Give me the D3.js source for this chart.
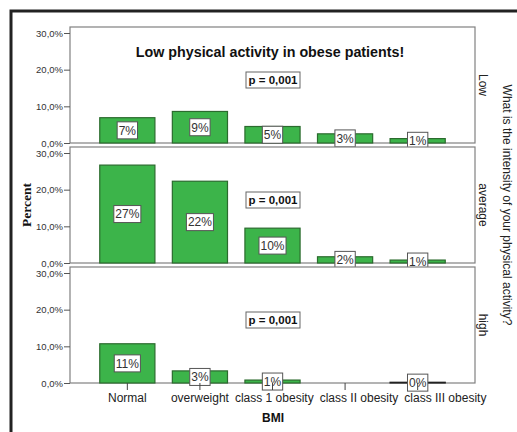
<!DOCTYPE html>
<html>
<head>
<meta charset="utf-8">
<script src="https://cdn.jsdelivr.net/npm/d3@7"></script>
<style>
  body { margin: 0; background: #fff; }
  svg text { font-family: "Liberation Sans", Arial, sans-serif; }
</style>
</head>
<body>
<div id="chart"></div>
<script>
// categories and values (percent) per activity level
const categories = ["Normal", "overweight", "class 1 obesity", "class II obesity", "class III obesity"];
const levels = ["Low", "average", "high"];
const lowValues = [6.9, 8.6, 4.5, 2.5, 1.2];
const averageValues = [26.7, 22.3, 9.5, 1.7, 0.8];
const highValues = [10.7, 3.3, 0.8, 0, 0.2];
const lowLabels = ["7%", "9%", "5%", "3%", "1%"];
const averageLabels = ["27%", "22%", "10%", "2%", "1%"];
const highLabels = ["11%", "3%", "1%", "", "0%"];
const yTicks = [0, 10, 20, 30];
const pText = "p = 0,001";

const panels = [
  { level: levels[0], values: lowValues, labels: lowLabels },
  { level: levels[1], values: averageValues, labels: averageLabels },
  { level: levels[2], values: highValues, labels: highLabels }
];

const width = 517, height = 432;
const panelLeft = 70, panelRight = 475;
const panelTops = [27, 147, 267];
const panelH = 116;

const svg = d3.select("#chart")
  .append("svg")
  .attr("width", width)
  .attr("height", height);

// outer frame
svg.append("path")
  .attr("d", `M11,${height} L11,11 L${width},11`)
  .attr("fill", "none")
  .attr("stroke", "#222")
  .attr("stroke-width", 3);

const x = d3.scaleBand()
  .domain(categories)
  .range([panelLeft, panelRight])
  .paddingInner(0.24)
  .paddingOuter(0.41);

panels.forEach((p, i) => {
  const top = panelTops[i];
  const bottom = top + panelH;
  const y = d3.scaleLinear()
    .domain([0, 30])
    .range([bottom, top + 6]);

  const g = svg.append("g");

  // panel box
  g.append("rect")
    .attr("x", panelLeft)
    .attr("y", top)
    .attr("width", panelRight - panelLeft)
    .attr("height", panelH)
    .attr("fill", "#fff")
    .attr("stroke", "#808080")
    .attr("stroke-width", 1.2);

  // y axis
  const yAxis = d3.axisLeft(y)
    .tickValues(yTicks)
    .tickSize(6)
    .tickFormat(d => d3.format(".1f")(d).replace(".", ",") + "%");
  const ya = g.append("g")
    .attr("transform", `translate(${panelLeft},0)`)
    .call(yAxis);
  ya.select(".domain").remove();
  ya.selectAll(".tick line").attr("stroke", "#555");
  ya.selectAll(".tick text")
    .attr("font-size", 9.5)
    .attr("fill", "#333")
    .attr("x", -7);

  // bars
  g.selectAll(".bar")
    .data(p.values)
    .enter()
    .append("rect")
    .attr("class", "bar")
    .attr("x", (d, j) => x(categories[j]))
    .attr("y", d => y(d))
    .attr("width", x.bandwidth())
    .attr("height", d => y(0) - y(d))
    .attr("fill", d => d > 0.5 ? "#3cb44a" : "#222")
    .attr("stroke", d => d > 0 ? (d > 0.5 ? "#2b6b2e" : "#222") : "none")
    .attr("stroke-width", 1.2);

  // value labels
  const lab = g.selectAll(".lab")
    .data(p.values.map((v, j) => ({ v, t: p.labels[j], c: categories[j] })).filter(d => d.t))
    .enter()
    .append("g")
    .attr("transform", d => `translate(${x(d.c) + x.bandwidth() / 2},${(y(d.v) + y(0)) / 2})`);
  lab.append("rect")
    .attr("y", -8.5)
    .attr("height", 17)
    .attr("fill", "#fff")
    .attr("stroke", "#555")
    .attr("stroke-width", 1);
  const txt = lab.append("text")
    .attr("text-anchor", "middle")
    .attr("dy", "0.36em")
    .attr("font-size", 12)
    .attr("fill", "#333")
    .text(d => d.t);
  txt.each(function () {
    const w = this.getComputedTextLength() + 3;
    d3.select(this.parentNode).select("rect")
      .attr("x", -w / 2)
      .attr("width", w);
  });

  // p value box
  g.append("rect")
    .attr("x", 246)
    .attr("y", top + 45)
    .attr("width", 54)
    .attr("height", 16)
    .attr("fill", "#fff")
    .attr("stroke", "#666");
  g.append("text")
    .attr("x", 273)
    .attr("y", top + 57)
    .attr("text-anchor", "middle")
    .attr("font-size", 11.5)
    .attr("font-weight", "bold")
    .attr("fill", "#111")
    .text(pText);

  // facet label on the right
  g.append("text")
    .attr("transform", `translate(${panelRight + 4},${top + panelH / 2}) rotate(90)`)
    .attr("text-anchor", "middle")
    .attr("font-size", 12)
    .attr("fill", "#222")
    .text(p.level);
});

// x axis below the last panel
const xAxis = d3.axisBottom(x).tickSize(7).tickPadding(3);
const xa = svg.append("g")
  .attr("transform", `translate(0,${panelTops[2] + panelH})`)
  .call(xAxis);
xa.select(".domain").remove();
xa.selectAll(".tick line").attr("stroke", "#444");
xa.selectAll(".tick text").attr("font-size", 12).attr("fill", "#222");

// push overlapping tick labels to the right, like the original
const items = xa.selectAll(".tick text").nodes().map((n, j) => {
  const home = x(categories[j]) + x.bandwidth() / 2;
  return { n, home, c: home, w: n.getComputedTextLength() };
});
const minGap = 6;
for (let j = 1; j < items.length; j++) {
  const a = items[j - 1], b = items[j];
  const need = a.c + a.w / 2 + minGap - (b.c - b.w / 2);
  if (need > 0) b.c += need;
}
items.forEach(it => d3.select(it.n).attr("x", it.c - it.home));

// title
svg.append("text")
  .attr("x", 270)
  .attr("y", 57)
  .attr("text-anchor", "middle")
  .attr("font-size", 14.3)
  .attr("font-weight", "bold")
  .attr("fill", "#111")
  .text("Low physical activity in obese patients!");

// axis titles
svg.append("text")
  .attr("x", 273)
  .attr("y", 422)
  .attr("text-anchor", "middle")
  .attr("font-size", 12)
  .attr("font-weight", "bold")
  .attr("fill", "#111")
  .text("BMI");

svg.append("text")
  .attr("transform", "translate(31,205) rotate(-90)")
  .attr("text-anchor", "middle")
  .attr("font-size", 13.5)
  .attr("font-weight", "bold")
  .style("font-family", "'Liberation Serif', 'Times New Roman', serif")
  .attr("fill", "#111")
  .text("Percent");

svg.append("text")
  .attr("transform", "translate(503,205) rotate(90)")
  .attr("text-anchor", "middle")
  .attr("font-size", 12)
  .attr("fill", "#222")
  .text("What is the intensity of your physical activity?");
</script>
</body>
</html>
